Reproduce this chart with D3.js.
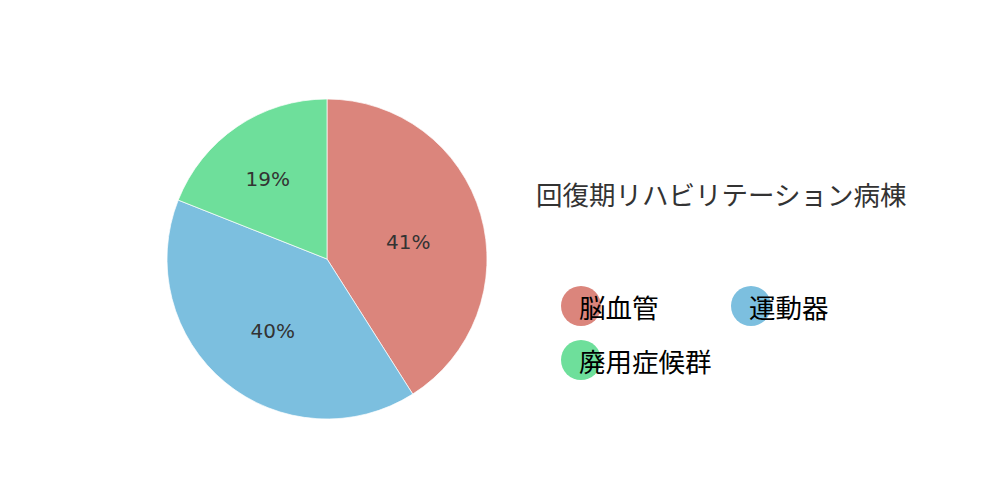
<!DOCTYPE html>
<html>
<head>
<meta charset="utf-8">
<script src="https://cdn.jsdelivr.net/npm/d3@7"></script>
<style>
  body { margin: 0; background: #fff; }
  svg { display: block; }
</style>
</head>
<body>
<svg id="chart" width="1000" height="500"></svg>
<script>
// データ（回復期リハビリテーション病棟の疾患別割合）
const categories = ['脳血管', '運動器', '廃用症候群'];
const values = [41, 40, 19];
const colors = ['#db857c', '#7cbfdf', '#6edf9b'];
const chartTitle = '回復期リハビリテーション病棟';

const svg = d3.select('#chart');

const cx = 327;
const cy = 259;
const radius = 160;

const pie = d3.pie()
  .value((d) => d)
  .sort(null);

const arcs = pie(values);
const arcGen = d3.arc().innerRadius(0).outerRadius(radius);

const pieG = svg.append('g')
  .attr('transform', `translate(${cx},${cy})`);

// 扇形
pieG.selectAll('path')
  .data(arcs)
  .join('path')
  .attr('d', arcGen)
  .attr('fill', (d, i) => colors[i])
  .attr('stroke', '#fff')
  .attr('stroke-width', 0.7);

// パーセント表示（内接円の中心あたりに配置）
const total = d3.sum(values);
function labelPos(d) {
  const half = (d.endAngle - d.startAngle) / 2;
  const mid = (d.startAngle + d.endAngle) / 2;
  const inscribed = Math.min(1 / (1 + 1 / Math.sin(half)), 0.5);
  const r = radius * (1 - inscribed) + 3;
  return [Math.sin(mid) * r, -Math.cos(mid) * r];
}

pieG.selectAll('text')
  .data(arcs)
  .join('text')
  .attr('x', (d) => labelPos(d)[0])
  .attr('y', (d) => labelPos(d)[1] + 7)
  .attr('text-anchor', 'middle')
  .attr('dominant-baseline', 'central')
  .attr('font-family', '"DejaVu Sans", Verdana, sans-serif')
  .attr('font-size', '20px')
  .attr('fill', '#333')
  .text((d) => `${Math.round(d.value / total * 100)}%`);

// タイトル
svg.append('text')
  .attr('x', 536)
  .attr('y', 205)
  .attr('font-family', '"Noto Sans CJK JP", sans-serif')
  .attr('font-size', '26.5px')
  .attr('fill', '#333')
  .text(chartTitle);

// 凡例
const legendX = d3.scalePoint()
  .domain([0, 1])
  .range([581, 751]);

const legend = svg.append('g')
  .selectAll('g')
  .data(categories)
  .join('g')
  .attr('transform', (d, i) => `translate(${legendX(i % 2)},${306 + Math.floor(i / 2) * 54})`);

legend.append('circle')
  .attr('r', 20)
  .attr('fill', (d, i) => colors[i]);

legend.append('text')
  .attr('x', -2)
  .attr('y', 0)
  .attr('dominant-baseline', 'central')
  .attr('font-family', '"Noto Sans CJK JP", sans-serif')
  .attr('font-size', '26.5px')
  .attr('fill', '#000')
  .text((d) => d);
</script>
</body>
</html>
